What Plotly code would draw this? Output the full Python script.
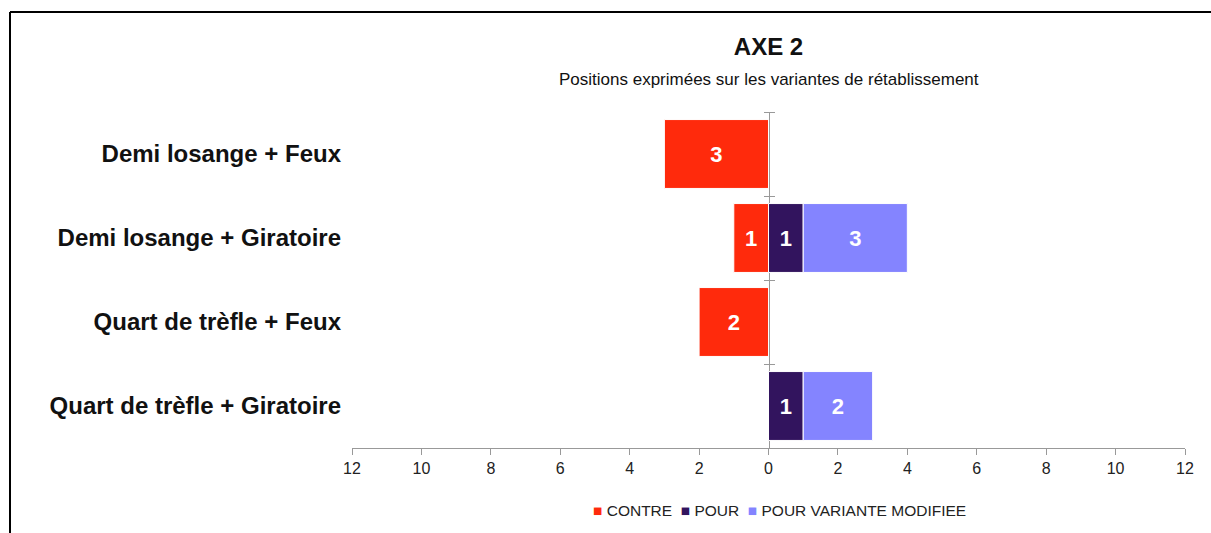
import plotly.graph_objects as go

categories = [
    "Demi losange + Feux",
    "Demi losange + Giratoire",
    "Quart de trèfle + Feux",
    "Quart de trèfle + Giratoire",
]
contre = [3, 1, 2, 0]
pour = [0, 1, 0, 1]
pour_variante = [0, 3, 0, 2]

series_names = ["CONTRE", "POUR", "POUR VARIANTE MODIFIEE"]

x_ticks = list(range(-12, 13, 2))
x_ticktext = [str(abs(v)) for v in x_ticks]

RED = "#FF2A0C"
DARK = "#32145E"
LIGHT = "#8484FF"
colors = [RED, DARK, LIGHT]
FONT = "Liberation Sans, Arial, sans-serif"


def labels(vals):
    return [str(v) if v else "" for v in vals]


fig = go.Figure()
for name, vals, sign, col in zip(series_names, [contre, pour, pour_variante], [-1, 1, 1], colors):
    fig.add_trace(go.Bar(
        name=name, y=categories, x=[sign * v for v in vals], orientation="h",
        marker=dict(color=col, line=dict(color="white", width=1)),
        text=labels(vals), textposition="inside", insidetextanchor="middle",
        textfont=dict(color="white", size=22, family=FONT, weight="bold"),
        showlegend=False,
    ))

# empty traces so the two overlay axes at x = 0 get drawn
for ax in ["y2", "y3"]:
    fig.add_trace(go.Scatter(x=[None], y=[None], yaxis=ax, mode="markers",
                             showlegend=False, hoverinfo="skip"))

# vertical centre axis at x = 0 with crosses on the category boundaries
n = len(categories)
boundaries = [i - 0.5 for i in range(n)]
centre_axis = dict(
    type="linear", overlaying="y", anchor="free", position=0.5,
    range=[n - 0.5, -0.5], tickvals=boundaries, showticklabels=False,
    ticks="outside", ticklen=5, tickcolor="#999", tickwidth=1,
    showline=True, linecolor="#999", linewidth=1, showgrid=False,
    zeroline=False, layer="below traces",
)

legend_text = "&nbsp;&nbsp;".join(
    f"<span style='color:{c}'>■</span> {nm}" for nm, c in zip(series_names, colors)
)

fig.update_layout(
    width=1211, height=533,
    barmode="relative", bargap=0.18,
    plot_bgcolor="white", paper_bgcolor="white",
    margin=dict(l=352, r=26, t=112, b=85),
    font=dict(family=FONT, color="#222"),
    title=dict(
        text="<b>AXE 2</b>",
        x=0.5, xref="paper", xanchor="center",
        y=1 - 47 / 533, yref="container", yanchor="middle",
        font=dict(size=24, color="#111", family=FONT),
    ),
    xaxis=dict(
        range=[-12, 12], tickvals=x_ticks, ticktext=x_ticktext,
        showgrid=False, zeroline=False, showline=True, linecolor="#999",
        ticks="outside", ticklen=6, tickcolor="#999",
        tickfont=dict(size=16, color="#222", family=FONT),
    ),
    yaxis=dict(
        categoryorder="array", categoryarray=categories, autorange="reversed",
        showgrid=False, zeroline=False, showline=False, ticks="",
        ticklabelstandoff=10,
        tickfont=dict(size=24, color="#111", family=FONT, weight="bold"),
    ),
    yaxis2=dict(centre_axis, side="left"),
    yaxis3=dict(centre_axis, side="right"),
    annotations=[
        dict(
            text="Positions exprimées sur les variantes de rétablissement",
            xref="paper", yref="paper", x=0.5, y=(448 - 80) / 336,
            xanchor="center", yanchor="middle", showarrow=False,
            font=dict(size=17, color="#111", family=FONT),
        ),
        dict(
            text=legend_text,
            xref="paper", yref="paper", x=(779 - 352) / 833, y=(448 - 510) / 336,
            xanchor="center", yanchor="middle", showarrow=False,
            font=dict(size=15.5, color="#222", family=FONT),
        ),
    ],
    shapes=[
        dict(type="line", xref="paper", yref="paper",
             x0=(10 - 352) / 833, x1=(1240 - 352) / 833,
             y0=(448 - 12) / 336, y1=(448 - 12) / 336,
             line=dict(color="black", width=2), layer="below"),
        dict(type="line", xref="paper", yref="paper",
             x0=(10 - 352) / 833, x1=(10 - 352) / 833,
             y0=(448 - 12) / 336, y1=(448 - 560) / 336,
             line=dict(color="black", width=2), layer="below"),
    ],
)

fig.write_html("out.html")
